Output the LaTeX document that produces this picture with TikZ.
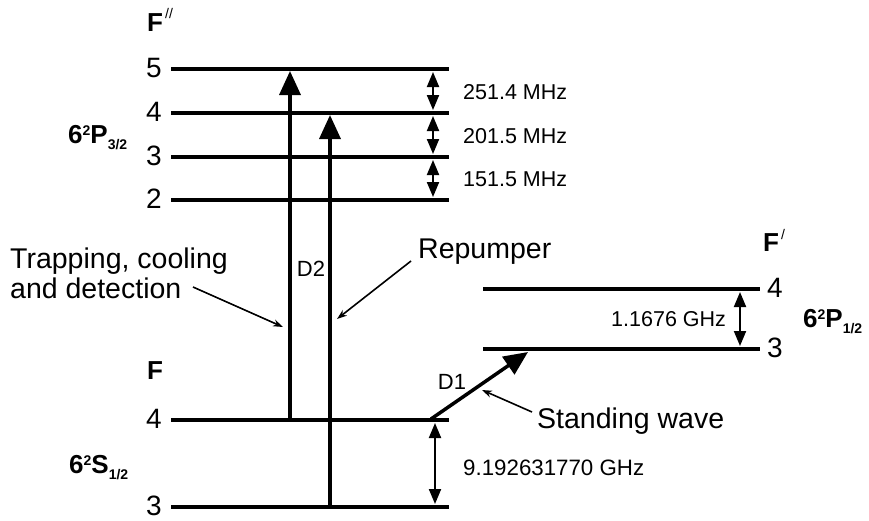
\documentclass[tikz,border=0pt]{standalone}
\usepackage{fontspec}
\setmainfont{Liberation Sans}
\usetikzlibrary{arrows.meta}
\newcommand{\stlab}[2]{\bfseries\fontsize{26}{30}\selectfont 6\raisebox{8pt}{\fontsize{14}{14}\selectfont 2}#1\raisebox{-6pt}{\fontsize{14}{14}\selectfont #2}}
\begin{document}
\begin{tikzpicture}[x=1pt,y=-1pt,
  level/.style={line width=4.5pt},
  bigarrow/.style={line width=3.5pt,-{Triangle[length=24pt,width=21pt]}},
  dblarrow/.style={line width=2pt,{Triangle[length=15pt,width=12pt]}-{Triangle[length=15pt,width=12pt]}},
  ptr/.style={line width=1.6pt,-{Stealth[length=10pt,width=7pt]}},
  num/.style={font=\fontsize{28}{32}\selectfont, inner sep=0pt},
  flab/.style={font=\bfseries\fontsize{26}{30}\selectfont, inner sep=0pt},
  txt/.style={font=\fontsize{28.5}{32}\selectfont, inner sep=0pt, anchor=base west},
  small/.style={font=\fontsize{21.5}{24}\selectfont, inner sep=0pt, anchor=base west},
  st/.style={inner sep=0pt, anchor=base west}
]
\useasboundingbox (0,0) rectangle (869,520);
% ---- level end points
\coordinate (e5L) at (171,69);  \coordinate (e5R) at (449,69);
\coordinate (e4L) at (171,113); \coordinate (e4R) at (449,113);
\coordinate (e3L) at (171,157); \coordinate (e3R) at (449,157);
\coordinate (e2L) at (171,200); \coordinate (e2R) at (449,200);
\coordinate (p4L) at (483,289); \coordinate (p4R) at (760,289);
\coordinate (p3L) at (483,349); \coordinate (p3R) at (760,349);
\coordinate (g4L) at (171,420); \coordinate (g4R) at (449,420);
\coordinate (g3L) at (171,507); \coordinate (g3R) at (449,507);
\foreach \a in {e5,e4,e3,e2,p4,p3,g4,g3}{\draw[level] (\a L) -- (\a R);}
% ---- level numbers
\node[num] (n5) at (154,68) {5};
\node[num] (n4) at (154,112) {4};
\node[num] (n3) at (154,156) {3};
\node[num] (n2) at (154,199) {2};
\node[num] (m4) at (775,288) {4};
\node[num] (m3) at (775,348) {3};
\node[num] (k4) at (154,419) {4};
\node[num] (k3) at (154,506) {3};
% ---- F labels
\node[flab] (Fpp) at (155,23) {F};
\node[inner sep=0pt, font=\fontsize{14}{14}\selectfont] (Fppm) at (169,13) {//};
\node[flab] (Fp) at (771,243) {F};
\node[inner sep=0pt, font=\fontsize{14}{14}\selectfont] (Fpm) at (783,234) {/};
\node[flab] (F) at (155,371) {F};
% ---- state labels
\node[st] (s1) at (68,143) {\stlab{P}{3/2}};
\node[st] (s2) at (803,327) {\stlab{P}{1/2}};
\node[st] (s3) at (69,473) {\stlab{S}{1/2}};
% ---- transitions
\coordinate (a1s) at (290,420); \coordinate (a1e) at (290,71);
\coordinate (a2s) at (330,507); \coordinate (a2e) at (330,115);
\coordinate (a3s) at (431,419); \coordinate (a3e) at (528,352);
\draw[bigarrow] (a1s) -- (a1e);
\draw[bigarrow] (a2s) -- (a2e);
\draw[bigarrow] (a3s) -- (a3e);
\node[font=\fontsize{22}{24}\selectfont, inner sep=0pt] (D2) at (311,269) {D2};
\node[font=\fontsize{22}{24}\selectfont, inner sep=0pt] (D1) at (452,382) {D1};
% ---- splittings
\coordinate (h1a) at (433,72);  \coordinate (h1b) at (433,110);
\coordinate (h2a) at (433,116); \coordinate (h2b) at (433,154);
\coordinate (h3a) at (433,160); \coordinate (h3b) at (433,197);
\draw[dblarrow] (h1a) -- (h1b);
\draw[dblarrow] (h2a) -- (h2b);
\draw[dblarrow] (h3a) -- (h3b);
\node[small] (m1) at (463,99) {251.4 MHz};
\node[small] (m2) at (463,143) {201.5 MHz};
\node[small] (m3l) at (463,186) {151.5 MHz};
\coordinate (gpa) at (740,292); \coordinate (gpb) at (740,346);
\draw[dblarrow] (gpa) -- (gpb);
\node[small] (ghz1) at (611,326) {1.1676 GHz};
\coordinate (gga) at (435,423); \coordinate (ggb) at (435,504);
\draw[dblarrow] (gga) -- (ggb);
\node[small, font=\fontsize{22.3}{24}\selectfont] (ghz2) at (463,475) {9.192631770 GHz};
% ---- annotations
\node[txt] (trap1) at (10,268) {Trapping, cooling};
\node[txt] (trap2) at (10,298) {and detection};
\coordinate (t2) at (193,287); \coordinate (t2e) at (283,327);
\draw[ptr] (t2) -- (t2e);
\node[txt] (rep) at (418,258) {Repumper};
\coordinate (r1) at (411,261); \coordinate (r1e) at (337,319);
\draw[ptr] (r1) -- (r1e);
\node[txt] (sw) at (537,428) {Standing wave};
\coordinate (w1) at (532,412); \coordinate (w1e) at (482,390);
\draw[ptr] (w1) -- (w1e);
\end{tikzpicture}
\end{document}
